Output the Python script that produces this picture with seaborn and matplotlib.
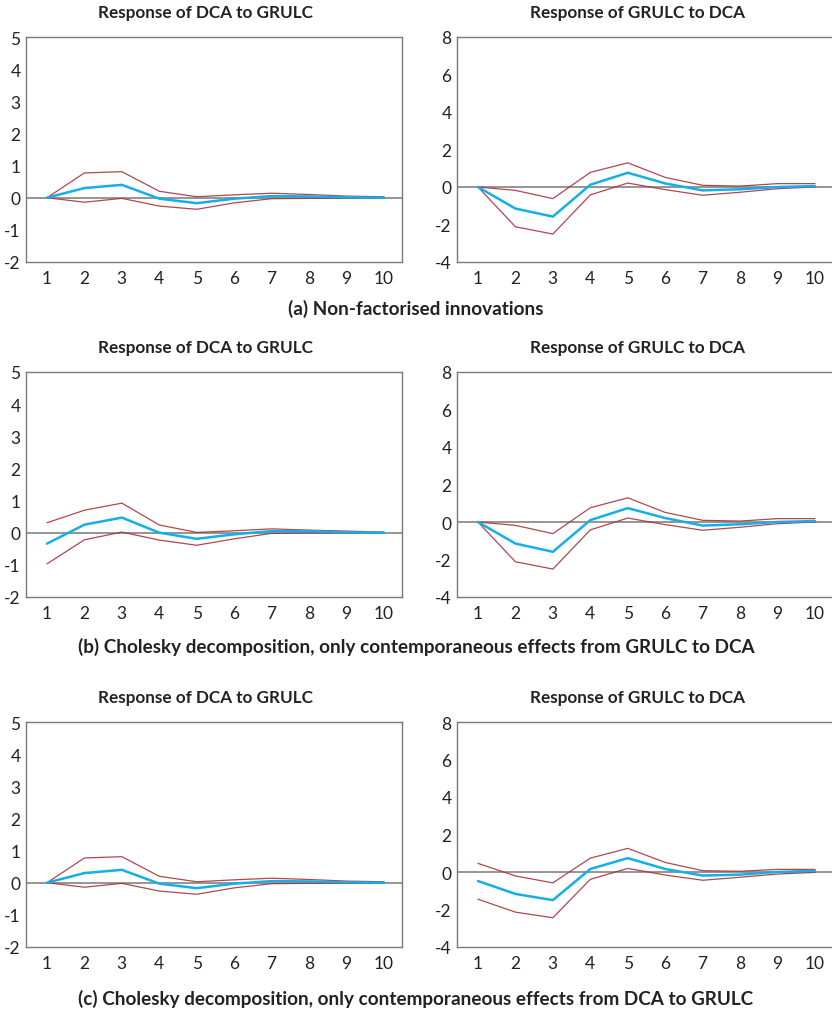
import matplotlib
matplotlib.use("Agg")
import matplotlib.pyplot as plt
import numpy as np
import pandas as pd
import seaborn as sns

# periods after the shock
periods = [1, 2, 3, 4, 5, 6, 7, 8, 9, 10]

# (a) non-factorised innovations
a_dca_mid = [0.0, 0.30, 0.40, -0.03, -0.17, -0.03, 0.05, 0.04, 0.01, 0.0]
a_dca_up = [0.0, 0.77, 0.81, 0.20, 0.03, 0.09, 0.14, 0.10, 0.05, 0.03]
a_dca_lo = [0.0, -0.14, -0.02, -0.26, -0.36, -0.16, -0.03, -0.02, -0.02, -0.02]
a_grulc_mid = [0.0, -1.15, -1.58, 0.12, 0.76, 0.19, -0.18, -0.12, 0.0, 0.05]
a_grulc_up = [0.0, -0.18, -0.62, 0.78, 1.29, 0.51, 0.09, 0.05, 0.18, 0.18]
a_grulc_lo = [0.0, -2.12, -2.51, -0.42, 0.21, -0.14, -0.44, -0.28, -0.09, 0.0]

# (b) Cholesky, GRULC -> DCA contemporaneous
b_dca_mid = [-0.34, 0.25, 0.47, 0.0, -0.19, -0.05, 0.05, 0.05, 0.01, 0.0]
b_dca_up = [0.31, 0.70, 0.92, 0.24, 0.01, 0.06, 0.12, 0.08, 0.05, 0.02]
b_dca_lo = [-0.97, -0.22, 0.02, -0.23, -0.39, -0.19, -0.02, -0.01, -0.01, -0.01]
b_grulc_mid = [0.0, -1.15, -1.59, 0.10, 0.74, 0.21, -0.19, -0.12, 0.0, 0.05]
b_grulc_up = [0.0, -0.18, -0.62, 0.76, 1.29, 0.51, 0.09, 0.05, 0.18, 0.18]
b_grulc_lo = [0.0, -2.12, -2.51, -0.42, 0.21, -0.14, -0.44, -0.28, -0.09, 0.0]

# (c) Cholesky, DCA -> GRULC contemporaneous
c_dca_mid = [0.0, 0.30, 0.40, -0.03, -0.17, -0.03, 0.05, 0.04, 0.01, 0.0]
c_dca_up = [0.0, 0.77, 0.81, 0.20, 0.03, 0.09, 0.14, 0.10, 0.05, 0.03]
c_dca_lo = [0.0, -0.14, -0.02, -0.26, -0.36, -0.16, -0.03, -0.02, -0.02, -0.02]
c_grulc_mid = [-0.48, -1.17, -1.50, 0.16, 0.74, 0.16, -0.19, -0.14, 0.0, 0.07]
c_grulc_up = [0.46, -0.21, -0.58, 0.74, 1.26, 0.51, 0.07, 0.04, 0.14, 0.14]
c_grulc_lo = [-1.45, -2.14, -2.44, -0.39, 0.19, -0.16, -0.44, -0.28, -0.11, -0.02]

titles = ["Response of DCA to GRULC", "Response of GRULC to DCA"]
captions = [
    "(a) Non-factorised innovations",
    "(b) Cholesky decomposition, only contemporaneous effects from GRULC to DCA",
    "(c) Cholesky decomposition, only contemporaneous effects from DCA to GRULC",
]

panels = [
    [(a_dca_mid, a_dca_up, a_dca_lo), (a_grulc_mid, a_grulc_up, a_grulc_lo)],
    [(b_dca_mid, b_dca_up, b_dca_lo), (b_grulc_mid, b_grulc_up, b_grulc_lo)],
    [(c_dca_mid, c_dca_up, c_dca_lo), (c_grulc_mid, c_grulc_up, c_grulc_lo)],
]

sns.set_style("white")
plt.rcParams["font.family"] = ["Lato", "DejaVu Sans"]
plt.rcParams["axes.unicode_minus"] = False  # plain hyphen like the original

W, H = 832, 1012
fig = plt.figure(figsize=(W / 100, H / 100), dpi=100)

col_left = [26, 457]
row_top = [38, 373, 723]
ax_w, ax_h = 376, 225
ylims = [(-2, 5), (-4, 8)]
yticks = [range(-2, 6), range(-4, 9, 2)]
title_x = [205, 638]
caption_y = [309, 647, 999]

mid_color = "#14aeea"
band_color = "#a8333a"
frame_color = "#7a7a7a"

for r in range(3):
    for c in range(2):
        mid, up, lo = panels[r][c]
        ax = fig.add_axes([col_left[c] / W, 1 - (row_top[r] + ax_h) / H, ax_w / W, ax_h / H])
        df = pd.DataFrame({
            "period": periods * 3,
            "value": mid + up + lo,
            "line": ["mid"] * 10 + ["up"] * 10 + ["lo"] * 10,
        })
        ax.axhline(0, color="#8c8c8c", lw=1.3, zorder=1)
        sns.lineplot(data=df[df["line"] != "mid"], x="period", y="value", units="line",
                     estimator=None, color=band_color, lw=0.9, alpha=0.9, ax=ax, zorder=2)
        sns.lineplot(data=df[df["line"] == "mid"], x="period", y="value",
                     color=mid_color, lw=1.8, ax=ax, zorder=3)
        ax.set_xlim(0.44, 10.48)
        ax.set_ylim(*ylims[c])
        ax.set_yticks(list(yticks[c]))
        ax.set_xticks(periods)
        ax.set_xticks(np.arange(1.5, 10.5, 1), minor=True)
        ax.tick_params(axis="x", which="major", length=0, labelsize=12.5, pad=6, colors="#222222")
        ax.tick_params(axis="x", which="minor", length=4, width=0.8, color=frame_color, direction="out")
        ax.tick_params(axis="y", length=3, width=0.8, color=frame_color, direction="out",
                       labelsize=12.5, pad=1, labelcolor="#222222")
        ax.set_xlabel("")
        ax.set_ylabel("")
        for s in ax.spines.values():
            s.set_color(frame_color)
            s.set_linewidth(1.0)
        fig.text(title_x[c] / W, 1 - (row_top[r] - 25) / H, titles[c], ha="center", va="center",
                 fontsize=12.3, fontweight="bold", color="#222222")
    fig.text(416 / W, 1 - caption_y[r] / H, captions[r], ha="center", va="center",
             fontsize=13.6, fontweight="bold", color="#222222")

fig.savefig("out.png", dpi=100)
